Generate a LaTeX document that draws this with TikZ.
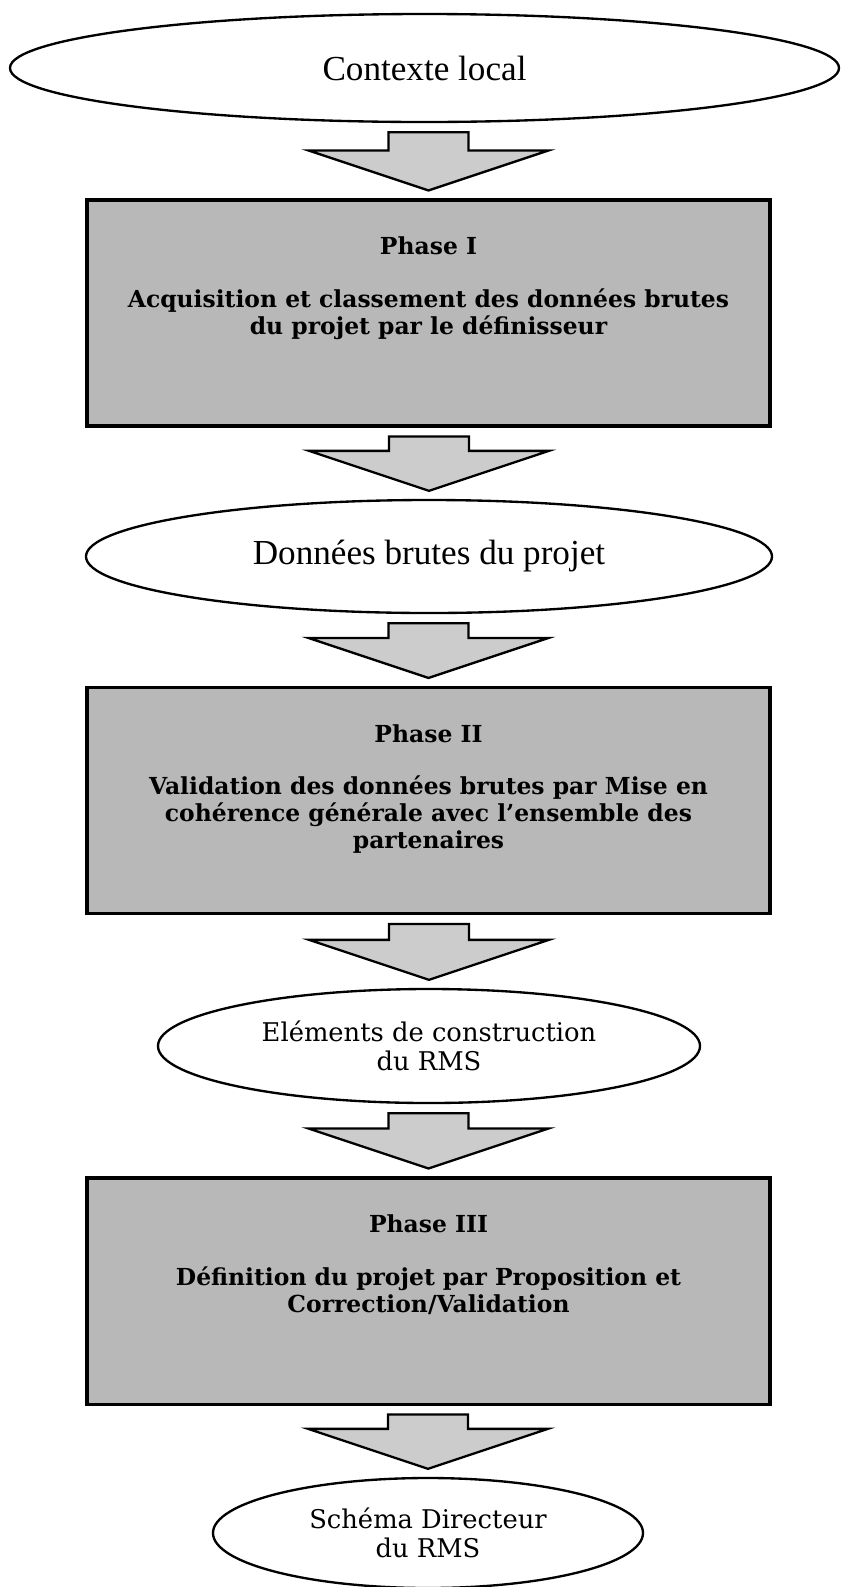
\documentclass[tikz,border=0pt]{standalone}
\usepackage{fontspec}
\newfontfamily\boxfamily{DejaVu Serif}
\newfontfamily\timesfamily{Liberation Serif}
\usetikzlibrary{shapes.geometric,calc}
\tikzset{
 phasebox/.style={draw,line width=2.6pt,fill=black!28,minimum width=20.49cm,minimum height=6.78cm,inner sep=0pt},
 phasetext/.style={align=center,inner sep=0pt,anchor=north,font=\myfontbox},
 blob/.style={ellipse,draw,line width=2pt,fill=white,inner sep=0pt,align=center},
 flowarrow/.style={draw,line width=2pt,fill=black!20,line join=miter}
}
\begin{document}
\begin{tikzpicture}[x=0.03cm,y=-0.03cm]
\newcommand{\myfontbox}{\boxfamily\bfseries\fontsize{20}{23}\selectfont}
\newcommand{\myfonttimes}{\timesfamily\fontsize{30}{32}\selectfont}
\newcommand{\myfontbook}{\boxfamily\fontsize{22}{25}\selectfont}
\newcommand{\myarrow}[2]{
\coordinate (t) at ($(#2.north)+(0,-8)$);
\coordinate (s) at ($(#1.south)+(0,9)$);
\draw [flowarrow] ($(s -| t)+(-40,0)$) -- ($(s -| t)+(40,0)$) -- ($(t)+(40,-40)$) -- ($(t)+(120,-40)$) -- (t) -- ($(t)+(-120,-40)$) -- ($(t)+(-40,-40)$) -- cycle;
}
%Page
\useasboundingbox (0,0) rectangle (841,1587);
%Contexte local
\coordinate (cctx) at (424.5,68);
\node [blob,minimum width=24.87cm,minimum height=3.24cm,font=\myfonttimes] (ctx) at (cctx) {Contexte local};
%Phase I
\coordinate (cph1) at (428.5,313);
\node [phasebox] (ph1) at (cph1) {};
\node [phasetext] (ph1txt) at ($(ph1.north)+(0,38)$) {Phase I\\[22pt]Acquisition et classement des données brutes\\du projet par le définisseur};
%Donnees brutes
\coordinate (cdon) at (429,556.5);
\node [blob,minimum width=20.58cm,minimum height=3.39cm,font=\myfonttimes] (don) at (cdon) {Données brutes du projet};
%Phase II
\coordinate (cph2) at (428.5,800.5);
\node [phasebox] (ph2) at (cph2) {};
\node [phasetext] (ph2txt) at ($(ph2.north)+(0,38)$) {Phase II\\[22pt]Validation des données brutes par Mise en\\cohérence générale avec l’ensemble des\\partenaires};
%Elements de construction
\coordinate (celem) at (429,1046);
\node [blob,minimum width=16.26cm,minimum height=3.42cm,font=\myfontbook] (elem) at (celem) {Eléments de construction\\du RMS};
%Phase III
\coordinate (cph3) at (428.5,1291);
\node [phasebox] (ph3) at (cph3) {};
\node [phasetext] (ph3txt) at ($(ph3.north)+(0,38)$) {Phase III\\[22pt]Définition du projet par Proposition et\\Correction/Validation};
%Schema Directeur
\coordinate (csch) at (428,1533);
\node [blob,minimum width=12.9cm,minimum height=3.3cm,font=\myfontbook] (sch) at (csch) {Schéma Directeur\\du RMS};
%Arrows between the steps
\myarrow{ctx}{ph1}
\myarrow{ph1}{don}
\myarrow{don}{ph2}
\myarrow{ph2}{elem}
\myarrow{elem}{ph3}
\myarrow{ph3}{sch}
\end{tikzpicture}
\end{document}
